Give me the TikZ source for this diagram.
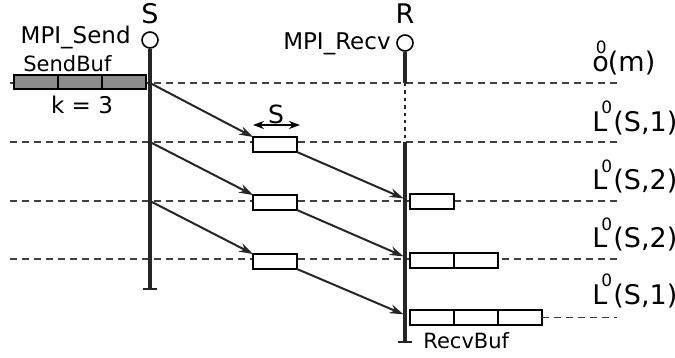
\documentclass[tikz,border=0pt]{standalone}
\usepackage{fontspec}
\setmainfont{DejaVu Sans}
\usetikzlibrary{arrows.meta,positioning,calc}
\tikzset{
    lifeline/.style={line width=1.7pt, black!85},
    endpt/.style={circle, draw, line width=0.8pt, fill=white, minimum size=8pt, inner sep=0pt},
    level/.style={dash pattern=on 3.5pt off 2.5pt, line width=0.75pt, black!75},
    msg/.style={-{Stealth[length=7pt, width=4.5pt]}, line width=1pt, black!85},
    pkt/.style={rectangle, draw, line width=0.75pt, fill=white, minimum width=22pt, minimum height=7.5pt, inner sep=0pt, outer sep=0pt, anchor=north west},
    sendcell/.style={pkt, fill=black!45, minimum height=7pt},
    lbl/.style={font=\fontsize{11.5}{13}\selectfont, inner sep=0pt},
    buflbl/.style={font=\fontsize{10.5}{12}\selectfont, inner sep=0pt},
    proc/.style={font=\fontsize{13.5}{15}\selectfont, inner sep=0pt},
}
\newcommand{\zeroover}[2]{#1\kern#2\raisebox{9pt}{\fontsize{8.5}{9}\selectfont 0}\kern0.6pt}

\begin{document}
\begin{tikzpicture}[x=0.5pt, y=-0.5pt]
    \useasboundingbox (0,0) rectangle (675,358);

    % levels
    \foreach \lv/\yy in {0/83, 1/142, 2/201, 3/259} {
        \coordinate (lvL\lv) at (10,\yy);
        \coordinate (lvR\lv) at (617,\yy);
        \draw[level] (lvL\lv) -- (lvR\lv);
    }

    % sender
    \node[proc, anchor=base] (S) at (150,24) {S};
    \node[endpt] (sTop) at (150,40) {};
    \coordinate (sBot) at (150,290);
    \draw[lifeline, -{Bar[width=7pt, line width=0.8pt]}] (sTop) -- (sBot);
    \node[lbl, anchor=base east] (send) at (131,44) {MPI\_Send};

    % receiver
    \node[proc, anchor=base] (R) at (405,24) {R};
    \node[endpt] (rTop) at (405,43) {};
    \coordinate (r0) at (405,83);
    \coordinate (r1) at (405,142);
    \coordinate (rBot) at (405,343);
    \draw[lifeline] (rTop) -- (r0);
    \draw[lifeline, dotted, line width=1.1pt] (r0) -- (r1);
    \draw[lifeline, -{Bar[width=7pt, line width=0.8pt]}] (r1) -- (rBot);
    \node[lbl, anchor=base east] (recv) at (391,50) {MPI\_Recv};

    % send buffer
    \node[sendcell] (sb1) at (14,75) {};
    \node[sendcell, right=0pt of sb1] (sb2) {};
    \node[sendcell, right=0pt of sb2] (sb3) {};
    \node[buflbl, anchor=base west] (sbuf) at (23,72) {SendBuf};
    \node[lbl] (k) at (82,105) {k = 3};

    % packets in flight
    \node[pkt] (p1) at (253,137) {};
    \node[pkt] (p2) at (253,195) {};
    \node[pkt] (p3) at (253,254) {};
    \coordinate (dimL) at (253,125);
    \coordinate (dimR) at (300,125);
    \draw[{Stealth[length=5.5pt, width=4pt]}-{Stealth[length=5.5pt, width=4pt]}, line width=0.8pt] (dimL) -- (dimR);
    \node[lbl, font=\fontsize{12.5}{13}\selectfont] (sz) at (276,114) {S};

    \coordinate (s1) at (150,83);
    \coordinate (s2) at (150,142);
    \coordinate (s3) at (150,201);
    \draw[msg] (s1) -- (p1.north west);
    \draw[msg] (s2) -- (p2.north west);
    \draw[msg] (s3) -- (p3.north west);

    \coordinate (q1) at (405,199);
    \coordinate (q2) at (405,257);
    \coordinate (q3) at (405,315);
    \draw[msg, shorten >=0.8pt] (p1.south east) -- (q1);
    \draw[msg, shorten >=0.8pt] (p2.south east) -- (q2);
    \draw[msg, shorten >=0.8pt] (p3.south east) -- (q3);

    % receive buffer
    \node[pkt] (rb1) at (410,194) {};
    \node[pkt] (rb2a) at (410,253) {};
    \node[pkt, right=0pt of rb2a] (rb2b) {};
    \node[pkt] (rb3a) at (410,310) {};
    \node[pkt, right=0pt of rb3a] (rb3b) {};
    \node[pkt, right=0pt of rb3b] (rb3c) {};
    \coordinate (lvR4) at (617,317.5);
    \draw[level] (rb3c.east) -- (lvR4);
    \node[buflbl, anchor=base west] (rbuf) at (423,348) {RecvBuf};

    % level labels
    \node[proc, anchor=base west] (o0) at (592,72) {\zeroover{o}{-6.5pt}(m)};
    \node[proc, anchor=base west] (L1) at (592,132) {\zeroover{L}{-3pt}(S,1)};
    \node[proc, anchor=base west] (L2) at (592,190) {\zeroover{L}{-3pt}(S,2)};
    \node[proc, anchor=base west] (L3) at (592,248) {\zeroover{L}{-3pt}(S,2)};
    \node[proc, anchor=base west] (L4) at (592,304) {\zeroover{L}{-3pt}(S,1)};
\end{tikzpicture}
\end{document}
